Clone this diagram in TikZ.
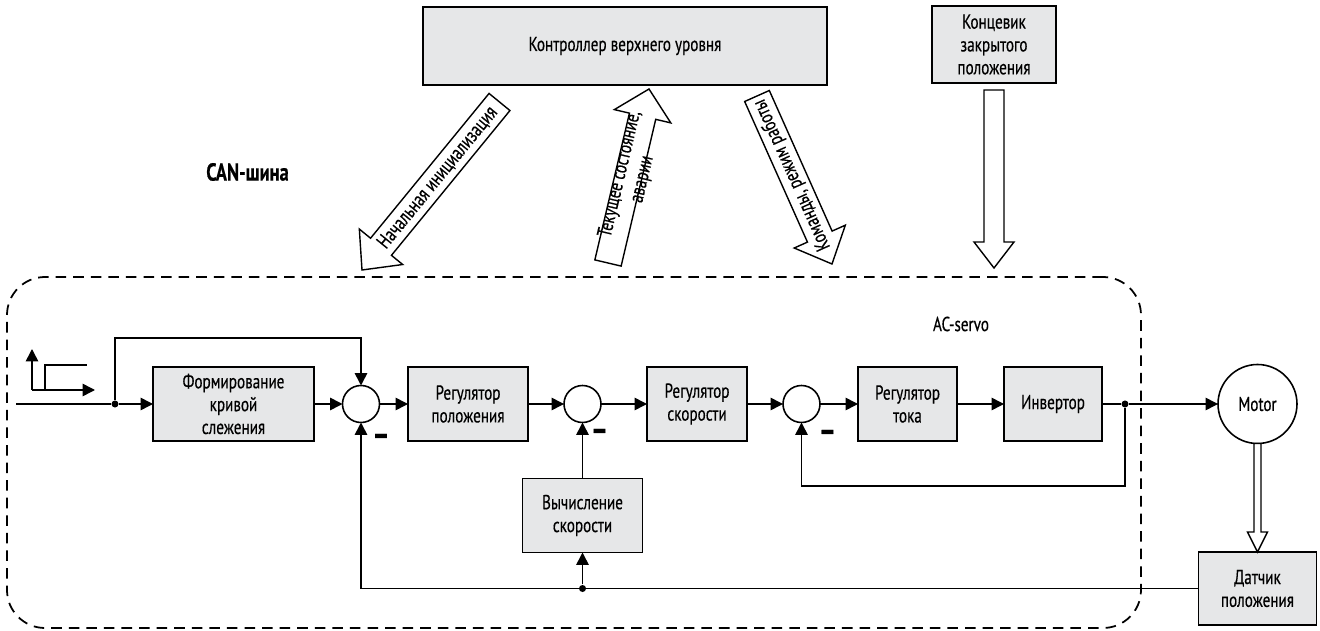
\documentclass[tikz,border=0pt]{standalone}
\usepackage{fontspec}
\setmainfont[FakeStretch=0.75,FakeBold=0.4]{PT Sans}
\usetikzlibrary{positioning,calc,arrows.meta}
\definecolor{boxgray}{HTML}{E6E7E8}
% hollow arrow: tail, tip, half shaft, half head, head length
\newcommand{\hollowarrow}[5]{%
  \coordinate (hb) at ($(#2)!#5!(#1)$);
  \draw[hollow node] ($(#1)!#3!90:(#2)$) -- ($(hb)!#3!90:(#2)$) -- ($(hb)!#4!90:(#2)$) -- (#2)
    -- ($(hb)!#4!-90:(#2)$) -- ($(hb)!#3!-90:(#2)$) -- ($(#1)!#3!-90:(#2)$) -- cycle;}

\begin{document}
\begin{tikzpicture}[
    >={Triangle[length=7pt,width=7pt]},
    line width=0.9pt,
    font=\fontsize{11.5}{13}\selectfont,
    block node/.style={draw,fill=boxgray,line width=0.9pt,align=center,inner sep=2pt,outer sep=0pt,minimum height=1.48cm},
    sum node/.style={draw,circle,minimum size=0.74cm,inner sep=0pt,outer sep=0pt},
    dot node/.style={circle,fill,inner sep=0pt,minimum size=4pt},
    hollow node/.style={draw,fill=white,line width=0.8pt,line join=miter},
    servo node/.style={draw,line width=1pt,dash pattern=on 6pt off 4pt,rounded corners=0.76cm,minimum width=22.68cm,minimum height=7.02cm},
    minus node/.style={font=\fontsize{20}{20}\selectfont\bfseries,inner sep=0pt}
    ]
    \useasboundingbox (0,0) rectangle (26.4,-12.62);

    \node[block node, minimum width=8.08cm, minimum height=1.56cm] (ctrl) at (12.5,-0.92) {Контроллер верхнего уровня};
    \node[block node, minimum width=2.48cm, minimum height=1.54cm] (kon) at (19.88,-0.89) {Концевик\\закрытого\\положения};
    \node[font=\fontsize{14}{16}\selectfont\bfseries] (can) at (4.95,-3.44) {CAN-шина};
    \node[servo node] (servo) at (11.48,-9.05) {};
    \node (acservo) at (19.22,-6.48) {AC-servo};

    % main chain
    \node[block node, minimum width=3.22cm] (form) at (4.67,-8.08) {Формирование\\кривой\\слежения};
    \node[sum node] (s1) [right=0.57cm of form] {};
    \node[block node, minimum width=2.4cm] (regpos) [right=0.57cm of s1] {Регулятор\\положения};
    \node[sum node] (s2) [right=0.72cm of regpos] {};
    \node[block node, minimum width=2cm] (regvel) [right=0.92cm of s2] {Регулятор\\скорости};
    \node[sum node] (s3) [right=0.72cm of regvel] {};
    \node[block node, minimum width=1.98cm] (regcur) [right=0.76cm of s3] {Регулятор\\тока};
    \node[block node, minimum width=1.96cm] (inv) [right=0.94cm of regcur] {Инвертор};
    \node[draw, circle, minimum size=1.58cm, inner sep=0pt, outer sep=0pt] (motor) [right=2.32cm of inv] {Motor};
    \node[block node, minimum width=2.36cm, minimum height=1.46cm] (sensor) [below=2.17cm of motor] {Датчик\\положения};
    \node[block node, minimum width=2.4cm] (velcalc) [below=1.12cm of s2] {Вычисление\\скорости};

    \node[minus node] (m1) at ($(s1)+(0.4,-0.72)$) {\textendash};
    \node[minus node] (m2) at ($(s2)+(0.34,-0.62)$) {\textendash};
    \node[minus node] (m3) at ($(s3)+(0.52,-0.64)$) {\textendash};

    % step input
    \draw[->] (0.64,-7.8) -- (0.64,-6.98);
    \draw[->] (0.64,-7.8) -- (1.9,-7.8);
    \draw (0.9,-7.8) |- (1.74,-7.3);

    \coordinate (in) at (0.32,-8.08);
    \node[dot node] (d1) at (2.3,-8.08) {};
    \node[dot node] (d2) at (22.5,-8.08) {};
    \node[dot node] (d3) at (velcalc |- sensor) {};

    \draw (in) -- (d1);
    \draw[->] (d1) -- (form);
    \draw[->] (d1) -- ++(0,1.32) -| (s1);
    \draw[->] (form) -- (s1);
    \draw[->] (s1) -- (regpos);
    \draw[->] (regpos) -- (s2);
    \draw[->] (s2) -- (regvel);
    \draw[->] (regvel) -- (s3);
    \draw[->] (s3) -- (regcur);
    \draw[->] (regcur) -- (inv);
    \draw (inv) -- (d2);
    \draw[->] (d2) -- (motor);
    \draw[->] (d2) -- ++(0,-1.64) -| (s3);
    \draw[->] (sensor) -| (s1);
    \draw[->] (d3) -- (velcalc);
    \draw[->] (velcalc) -- (s2);

    % CAN arrows
    \coordinate (a1t) at (9.99,-2.04);
    \coordinate (a1h) at (7.24,-5.4);
    \coordinate (a2t) at (12.16,-5.26);
    \coordinate (a2h) at (12.98,-1.78);
    \coordinate (a3t) at (15.14,-1.92);
    \coordinate (a3h) at (16.64,-5.28);
    \coordinate (a4t) at ($(kon.south)+(0,-0.14)$);
    \coordinate (a4h) at (19.88,-5.36);
    \hollowarrow{a1t}{a1h}{0.27cm}{0.56cm}{0.6cm}
    \hollowarrow{a2t}{a2h}{0.27cm}{0.58cm}{0.56cm}
    \hollowarrow{a3t}{a3h}{0.27cm}{0.56cm}{0.6cm}
    \hollowarrow{a4t}{a4h}{0.2cm}{0.4cm}{0.52cm}
    \hollowarrow{motor.south}{sensor.north}{0.07cm}{0.2cm}{0.4cm}

    \coordinate (a2m) at ($(a2t)!0.5!(a2h)$);
    \path (a1t) -- (a1h) node[pos=0.45, sloped] (t1) {Начальная инициализация};
    \node[rotate=76.7, align=center] (t2) at ($(a2m)!0.06cm!-90:(a2h)$) {Текущее состояние,\\аварии};
    \path (a3h) -- (a3t) node[pos=0.53, sloped, allow upside down] (t3) {Команды, режим работы};
\end{tikzpicture}
\end{document}
